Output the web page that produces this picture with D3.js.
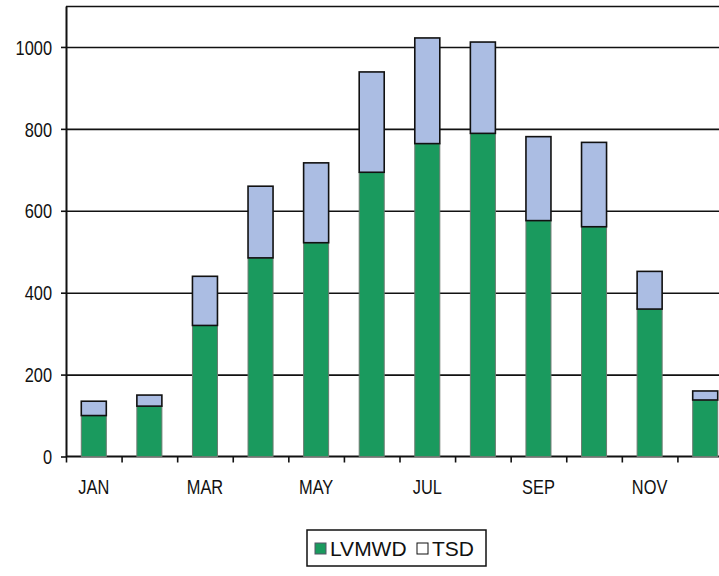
<!DOCTYPE html>
<html>
<head>
<meta charset="utf-8">
<script src="https://cdn.jsdelivr.net/npm/d3@7"></script>
<style>
  html, body { margin: 0; padding: 0; background: #fff; }
  svg { display: block; }
  text { font-family: "Liberation Sans", Arial, sans-serif; fill: #111; }
</style>
</head>
<body>
<svg id="chart" width="719" height="576"></svg>
<script>
// Monthly deliveries, stacked by agency
const months = ["JAN","FEB","MAR","APR","MAY","JUN","JUL","AUG","SEP","OCT","NOV","DEC"];
const lvmwd  = [100, 123, 320, 485, 522, 694, 764, 789, 576, 561, 360, 138];
const tsd    = [ 35,  27, 120, 175, 195, 245, 258, 223, 205, 206,  92,  22];
const yTicks = [0, 200, 400, 600, 800, 1000];
const seriesNames = ["LVMWD", "TSD"];
const seriesColors = ["#1a9a5e", "#abbde3"];

const svg = d3.select("#chart");
const plotLeft = 66, plotTop = 6, plotBottom = 456.5, plotRight = 733;

const rows = months.map((m, i) => ({ month: m, LVMWD: lvmwd[i], TSD: tsd[i] }));
const stacked = d3.stack().keys(seriesNames)(rows);

const x = d3.scaleBand().domain(months).range([plotLeft, plotRight])
  .paddingInner(0.55).paddingOuter(0.275);
const xEdge = d3.scaleLinear().domain([0, months.length]).range([plotLeft, plotRight]);
const y = d3.scaleLinear().domain([0, 1100]).range([plotBottom, plotTop]);

// horizontal gridlines plus the top frame line
svg.append("g")
  .attr("transform", `translate(${plotLeft},0)`)
  .call(d3.axisLeft(y).tickValues([200, 400, 600, 800, 1000, 1100])
    .tickSize(-(plotRight - plotLeft)).tickFormat(""))
  .call(g => g.select(".domain").remove())
  .call(g => g.selectAll("line").attr("stroke", "#111").attr("stroke-width", 1.6));

// baseline
svg.append("line")
  .attr("x1", plotLeft).attr("x2", plotRight)
  .attr("y1", y(0)).attr("y2", y(0))
  .attr("stroke", "#111").attr("stroke-width", 2);

// stacked bars
const colorOf = d3.scaleOrdinal().domain(seriesNames).range(seriesColors);
svg.append("g").selectAll("g")
  .data(stacked)
  .join("g")
  .attr("fill", d => colorOf(d.key))
  .attr("stroke", d => d.key === "TSD" ? "#111" : "#6b7a70")
  .attr("stroke-width", d => d.key === "TSD" ? 1.6 : 1)
  .selectAll("rect")
  .data(d => d)
  .join("rect")
  .attr("x", d => x(d.data.month))
  .attr("width", x.bandwidth())
  .attr("y", d => y(d[1]))
  .attr("height", d => y(d[0]) - y(d[1]));

// tick marks at month boundaries
svg.append("g")
  .attr("transform", `translate(0,${y(0)})`)
  .call(d3.axisBottom(xEdge).tickValues(d3.range(0, months.length + 1))
    .tickSize(6).tickSizeOuter(0).tickFormat(""))
  .call(g => g.select(".domain").remove())
  .call(g => g.selectAll("line").attr("stroke", "#111").attr("stroke-width", 1.6));

// month labels, every other month
svg.append("g")
  .attr("transform", `translate(0,${y(0)})`)
  .call(d3.axisBottom(x).tickSize(0).tickPadding(0)
    .tickFormat((d, i) => i % 2 === 0 ? d : ""))
  .call(g => g.select(".domain").remove())
  .call(g => g.selectAll("text")
    .attr("font-size", 20)
    .attr("font-family", "'Liberation Sans', Arial, sans-serif")
    .attr("fill", "#111")
    .attr("y", 0).attr("dy", 0)
    .attr("transform", "translate(0,37) scale(0.82,1)"));

// value axis
svg.append("g")
  .attr("transform", `translate(${plotLeft},0)`)
  .call(d3.axisLeft(y).tickValues(yTicks).tickFormat(d3.format("d"))
    .tickSize(5).tickSizeOuter(0).tickPadding(0))
  .call(g => g.select(".domain").attr("stroke", "#111").attr("stroke-width", 2))
  .call(g => g.selectAll("line").attr("stroke", "#111").attr("stroke-width", 1.6))
  .call(g => g.selectAll("text")
    .attr("font-size", 20)
    .attr("font-family", "'Liberation Sans', Arial, sans-serif")
    .attr("fill", "#111")
    .attr("x", 0).attr("dy", "0.36em")
    .attr("transform", "translate(-14,0) scale(0.82,1)"));

// legend
const legend = svg.append("g").attr("transform", "translate(307,530)");
legend.append("rect")
  .attr("x", 0).attr("y", 0).attr("width", 179).attr("height", 36)
  .attr("fill", "#fff").attr("stroke", "#111").attr("stroke-width", 1.5);
const legendX = [8, 110];
const legendItems = legend.selectAll("g.item")
  .data(seriesNames)
  .join("g")
  .attr("class", "item")
  .attr("transform", (d, i) => `translate(${legendX[i]},0)`);
legendItems.append("rect")
  .attr("x", 0).attr("y", 13).attr("width", 11).attr("height", 11)
  .attr("fill", d => d === "TSD" ? "#fff" : colorOf(d))
  .attr("stroke", d => d === "TSD" ? "#111" : "#556")
  .attr("stroke-width", 1);
legendItems.append("text")
  .attr("x", 15).attr("y", 26)
  .attr("font-size", 21)
  .text(d => d);
</script>
</body>
</html>
